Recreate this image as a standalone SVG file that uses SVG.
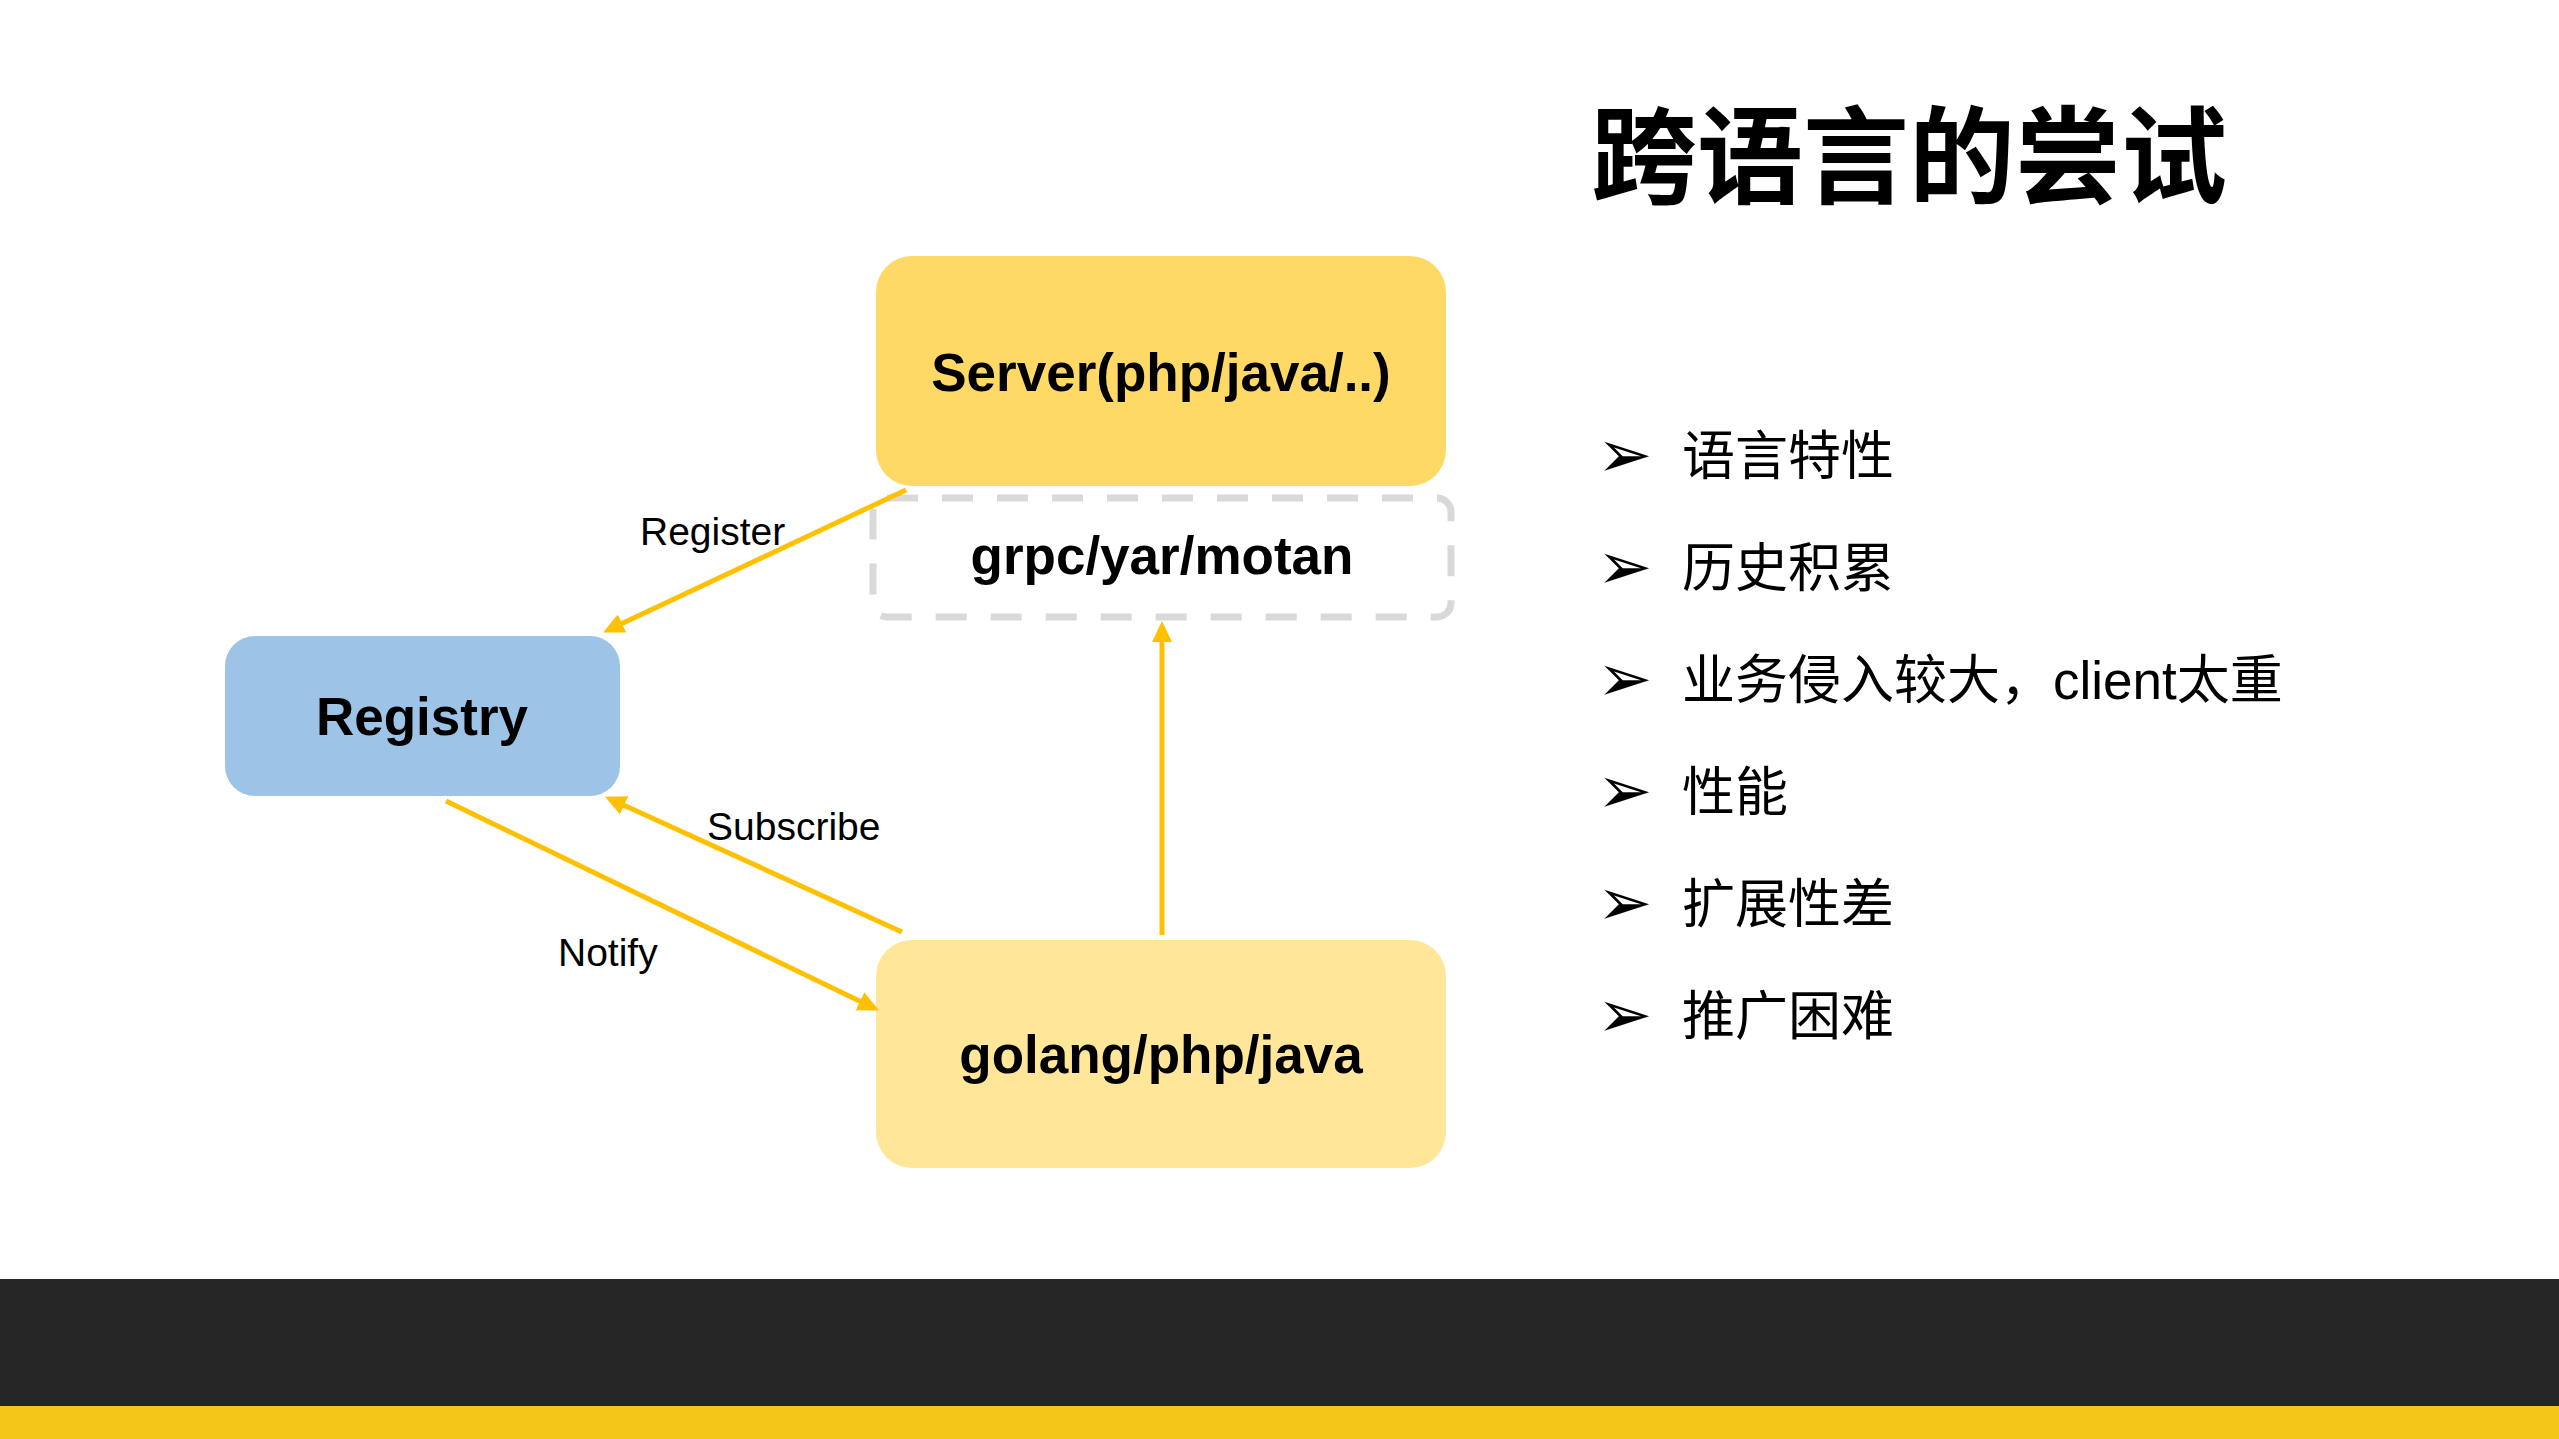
<svg xmlns="http://www.w3.org/2000/svg" width="2559" height="1439" viewBox="0 0 2559 1439">
  <style>
    .node-label { font-family: "Liberation Sans", Arial, sans-serif; font-weight: bold; font-size: 53px; fill: #000; text-anchor: middle; }
    .edge-label { font-family: "Liberation Sans", Arial, sans-serif; font-size: 39px; fill: #000; }
    .conn { stroke: #FFC000; stroke-width: 5; fill: none; marker-end: url(#arrow); }
    .bullet { font-family: "DejaVu Sans", sans-serif; font-size: 66px; fill: #000; }
    .item { font-family: "Liberation Sans", "Noto Sans CJK SC", sans-serif; font-size: 53px; fill: #000; }
    .title { font-family: "Noto Sans CJK SC", sans-serif; font-weight: bold; font-size: 106px; fill: #000; }
  </style>
  <defs>
    <marker id="arrow" markerUnits="userSpaceOnUse" markerWidth="21" markerHeight="20" refX="16" refY="10" orient="auto">
      <path d="M0,0 L21,10 L0,20 Z" fill="#FFC000"/>
    </marker>
  </defs>

  <rect x="0" y="0" width="2559" height="1439" fill="#FFFFFF"/>

  <!-- footer bands -->
  <rect x="0" y="1279" width="2559" height="127" fill="#262626"/>
  <rect x="0" y="1406" width="2559" height="33" fill="#F5C61A"/>

  <!-- title -->
  <text class="title" x="1591" y="195">跨语言的尝试</text>

  <!-- bullet list -->
  <g id="bullets">
    <text class="bullet" x="1597" y="477">➢</text><text class="item" x="1682" y="475">语言特性</text>
    <text class="bullet" x="1597" y="589">➢</text><text class="item" x="1682" y="587">历史积累</text>
    <text class="bullet" x="1597" y="701">➢</text><text class="item" x="1682" y="699">业务侵入较大，client太重</text>
    <text class="bullet" x="1597" y="813">➢</text><text class="item" x="1682" y="811">性能</text>
    <text class="bullet" x="1597" y="925">➢</text><text class="item" x="1682" y="923">扩展性差</text>
    <text class="bullet" x="1597" y="1037">➢</text><text class="item" x="1682" y="1035">推广困难</text>
  </g>

  <!-- nodes -->
  <g id="server">
    <rect x="876" y="256" width="570" height="230" rx="36" ry="36" fill="#FFD966"/>
    <text class="node-label" x="1161" y="391">Server(php/java/..)</text>
  </g>
  <g id="protocol">
    <rect x="873" y="498" width="578" height="119" rx="14" ry="14" fill="none" stroke="#D9D9D9" stroke-width="7" stroke-dasharray="31 24"/>
    <text class="node-label" x="1162" y="574">grpc/yar/motan</text>
  </g>
  <g id="registry">
    <rect x="225" y="636" width="395" height="160" rx="30" ry="30" fill="#9DC3E6"/>
    <text class="node-label" x="422" y="735">Registry</text>
  </g>
  <g id="client">
    <rect x="876" y="940" width="570" height="228" rx="36" ry="36" fill="#FFE699"/>
    <text class="node-label" x="1161" y="1073">golang/php/java</text>
  </g>

  <!-- connectors -->
  <g id="connectors">
    <line class="conn" x1="906" y1="490" x2="607.6" y2="630.3"/>
    <line class="conn" x1="902" y1="932" x2="609.6" y2="798.7"/>
    <line class="conn" x1="446" y1="801" x2="874.4" y2="1008.3"/>
    <line class="conn" x1="1162" y1="935" x2="1162" y2="626"/>
    <text class="edge-label" x="640" y="545">Register</text>
    <text class="edge-label" x="707" y="840">Subscribe</text>
    <text class="edge-label" x="558" y="966">Notify</text>
  </g>
</svg>
